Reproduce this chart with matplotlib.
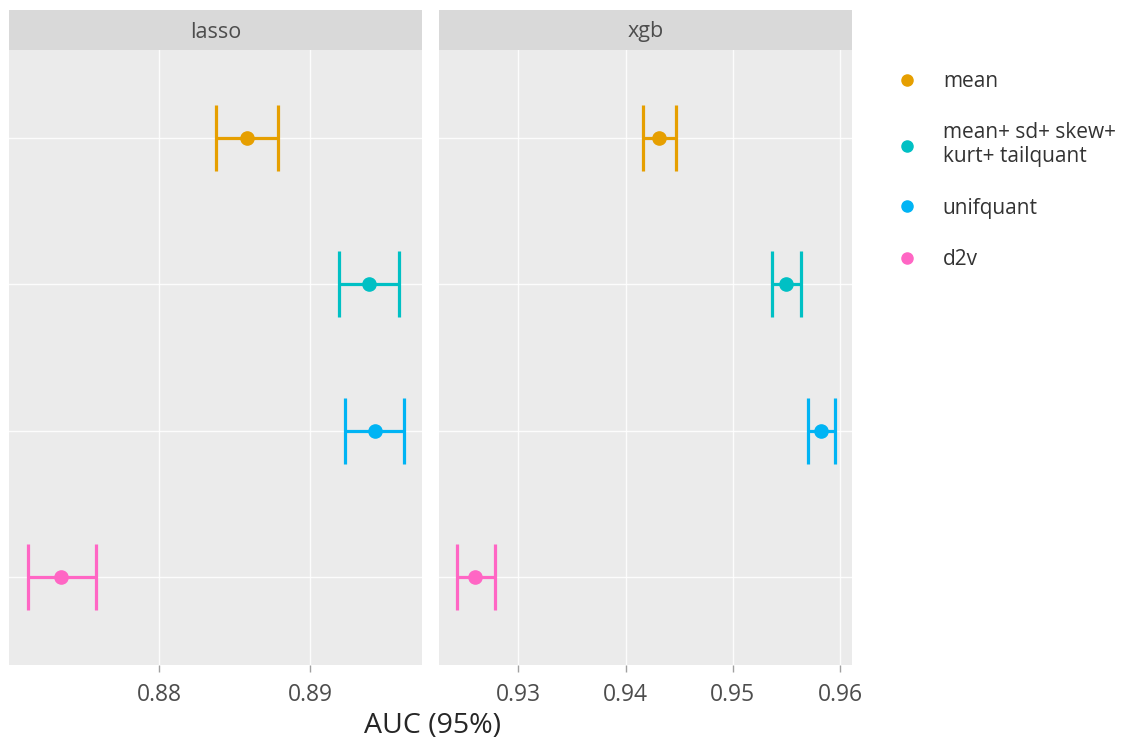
import matplotlib
matplotlib.use('Agg')
from matplotlib import pyplot as plt
from matplotlib.lines import Line2D
import numpy as np

plt.rcParams['font.family'] = ['Open Sans', 'DejaVu Sans']

# 数据：两个模型分面，每个特征集的 AUC 及 95% 区间
models = ['lasso', 'xgb']
features = ['mean', 'mean+ sd+ skew+\nkurt+ tailquant', 'unifquant', 'd2v']
colors = ['#E69F00', '#00C0C4', '#00B4F4', '#FF66C4']

lasso_auc = [0.8858, 0.8939, 0.8943, 0.8735]
lasso_lo = [0.8838, 0.8919, 0.8923, 0.8713]
lasso_hi = [0.8879, 0.8959, 0.8962, 0.8758]

xgb_auc = [0.9431, 0.9550, 0.9582, 0.9260]
xgb_lo = [0.9416, 0.9537, 0.9570, 0.9243]
xgb_hi = [0.9447, 0.9564, 0.9595, 0.9278]

lasso_ticks = [0.88, 0.89]
xgb_ticks = [0.93, 0.94, 0.95, 0.96]
lasso_xlim = (0.87007, 0.89742)
xgb_xlim = (0.9226, 0.96112)

panels = [
    (lasso_auc, lasso_lo, lasso_hi, lasso_ticks, lasso_xlim),
    (xgb_auc, xgb_lo, xgb_hi, xgb_ticks, xgb_xlim),
]

W, H = 1144, 742
fig = plt.figure(figsize=(W / 100, H / 100), dpi=100)

panel_left = [9, 439]
panel_w = 413
panel_top, panel_bot = 50, 665
strip_top = 10

ypos = np.arange(1, len(features) + 1)

for i, (auc, lo, hi, ticks, xlim) in enumerate(panels):
    x0 = panel_left[i] / W
    ax = fig.add_axes([x0, 1 - panel_bot / H, panel_w / W, (panel_bot - panel_top) / H])
    ax.set_facecolor('#EBEBEB')
    for s in ax.spines.values():
        s.set_visible(False)
    ax.set_xlim(*xlim)
    ax.set_ylim(len(features) + 0.6, 0.4)
    ax.set_xticks(ticks)
    ax.set_xticklabels([f'{t:.2f}' for t in ticks])
    ax.set_yticks(ypos)
    ax.set_yticklabels([])
    ax.tick_params(axis='y', length=0)
    ax.tick_params(axis='x', length=5, width=1, color='#A0A0A0', labelcolor='#4D4D4D',
                   labelsize=16.5, pad=8)
    ax.grid(True, color='white', linewidth=1.0, alpha=0.9)
    ax.set_axisbelow(True)

    for j in range(len(features)):
        c = colors[j]
        ax.hlines(ypos[j], lo[j], hi[j], color=c, linewidth=2.3)
        ax.vlines([lo[j], hi[j]], ypos[j] - 0.225, ypos[j] + 0.225, color=c, linewidth=2.3)
        ax.plot(auc[j], ypos[j], 'o', color=c, markersize=9.5)

    # 分面标题条
    sax = fig.add_axes([x0, 1 - panel_top / H, panel_w / W, (panel_top - strip_top) / H])
    sax.set_facecolor('#D9D9D9')
    sax.set_xticks([])
    sax.set_yticks([])
    for s in sax.spines.values():
        s.set_visible(False)
    sax.text(0.5, 0.45, models[i], ha='center', va='center', fontsize=15.5, color='#4D4D4D',
             transform=sax.transAxes)

fig.text(432 / W, 1 - 726 / H, 'AUC (95%)', ha='center', va='center', fontsize=20.5, color='#262626')

handles = [Line2D([], [], marker='o', linestyle='', color=c, markersize=8) for c in colors]
leg = fig.legend(handles, features, loc='upper left', bbox_to_anchor=(897 / W, 1 - 71 / H),
                 frameon=False, fontsize=15, labelspacing=1.45, handlelength=1.0,
                 handletextpad=1.2, borderpad=0, borderaxespad=0, labelcolor='#333333')
for t in leg.get_texts():
    t.set_linespacing(1.2)

fig.savefig('out.png', dpi=100)
